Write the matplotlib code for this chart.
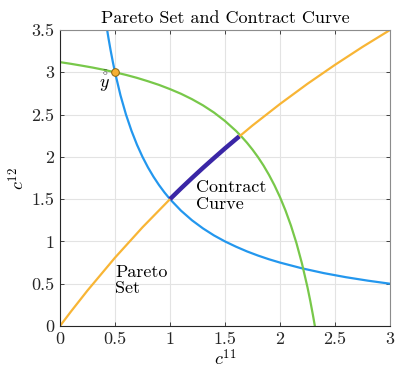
import matplotlib
matplotlib.use("Agg")
import matplotlib.pyplot as plt

plt.rcParams["font.family"] = "serif"
plt.rcParams["font.serif"] = ["cmr10", "DejaVu Serif"]
plt.rcParams["mathtext.fontset"] = "cm"
plt.rcParams["axes.formatter.use_mathtext"] = True

# Pareto set (agent 1 indifference curve through the endowment)
pareto_x = [0.42, 0.44, 0.46, 0.48, 0.5, 0.55, 0.6, 0.65, 0.7, 0.75, 0.8,
            0.85, 0.9, 0.95, 1.0, 1.1, 1.2, 1.3, 1.4, 1.5, 1.6, 1.7, 1.8,
            1.9, 2.0, 2.2, 2.4, 2.6, 2.8, 3.0]
pareto_y = [3.571, 3.409, 3.261, 3.125, 3.0, 2.727, 2.5, 2.308, 2.143, 2.0,
            1.875, 1.765, 1.667, 1.579, 1.5, 1.364, 1.25, 1.154, 1.071, 1.0,
            0.938, 0.882, 0.833, 0.789, 0.75, 0.682, 0.625, 0.577, 0.536, 0.5]

# agent 2 indifference curve through the endowment
indiff_x = [0.0, 0.1, 0.2, 0.3, 0.4, 0.5, 0.6, 0.7, 0.8, 0.9, 1.0, 1.1, 1.2,
            1.3, 1.4, 1.5, 1.6, 1.65, 1.7, 1.75, 1.8, 1.85, 1.9, 1.95, 2.0,
            2.05, 2.1, 2.15, 2.2, 2.25, 2.275, 2.3, 2.317]
indiff_y = [3.120, 3.100, 3.078, 3.055, 3.029, 3.000, 2.969, 2.934, 2.894,
            2.851, 2.801, 2.746, 2.682, 2.609, 2.524, 2.424, 2.307, 2.240,
            2.167, 2.086, 1.997, 1.898, 1.787, 1.663, 1.524, 1.366, 1.186,
            0.979, 0.738, 0.458, 0.299, 0.126, 0.0]

# efficient allocations (tangency locus)
eff_x = [0.0, 0.1, 0.25, 0.5, 0.75, 1.0, 1.25, 1.5, 1.75, 2.0, 2.25, 2.5,
         2.75, 3.0]
eff_y = [0.0, 0.172, 0.42, 0.808, 1.167, 1.5, 1.81, 2.1, 2.371, 2.625,
         2.864, 3.088, 3.3, 3.5]

# contract curve segment
contract_x = [1.0, 1.1, 1.2, 1.3, 1.4, 1.5, 1.63]
contract_y = [1.5, 1.627, 1.75, 1.87, 1.986, 2.1, 2.243]

endow_x = 0.5
endow_y = 3.0

fig = plt.figure(figsize=(3.96, 3.69), dpi=100)
ax = fig.add_axes([0.1515, 0.1165, 0.8333, 0.8022])

ax.plot(pareto_x, pareto_y, color="#2397ee", lw=1.6)
ax.plot(indiff_x, indiff_y, color="#78c84a", lw=1.6)
ax.plot(eff_x, eff_y, color="#f8b535", lw=1.6)
ax.plot(contract_x, contract_y, color="#3a26a6", lw=3.2, solid_capstyle="butt")
ax.plot([endow_x], [endow_y], "o", ms=5.5, mfc="#f7b034", mec="#8a6410", mew=0.7)

# endowment label: y with a ring and a bar stacked above it
lab_x, lab_y = 0.40, 2.85
ax.text(lab_x, lab_y, r"$y$", fontsize=13, ha="center", va="center")
ax.annotate(r"$\bar{\circ}$", (lab_x, lab_y), xytext=(1.2, 5.6),
            textcoords="offset points", fontsize=7, ha="center", va="bottom")

ax.text(1.235, 1.54, "Contract\nCurve", fontsize=13, ha="left", va="center",
        linespacing=1.1)
ax.text(0.5, 0.54, "Pareto\nSet", fontsize=13, ha="left", va="center",
        linespacing=1.1)

ax.set_xlim(0, 3)
ax.set_ylim(0, 3.5)
ax.set_xticks([0, 0.5, 1, 1.5, 2, 2.5, 3])
ax.set_xticklabels(["0", "0.5", "1", "1.5", "2", "2.5", "3"])
ax.set_yticks([0, 0.5, 1, 1.5, 2, 2.5, 3, 3.5])
ax.set_yticklabels(["0", "0.5", "1", "1.5", "2", "2.5", "3", "3.5"])
ax.tick_params(direction="in", length=3, width=0.6, labelsize=13,
               top=True, right=True, colors="#262626", pad=4)
ax.grid(True, color="#e3e3e3", lw=0.8)
ax.set_axisbelow(True)
for side in ["left", "bottom"]:
    ax.spines[side].set_color("#262626")
    ax.spines[side].set_linewidth(0.8)
for side in ["top", "right"]:
    ax.spines[side].set_color("#8c8c8c")
    ax.spines[side].set_linewidth(0.8)

ax.set_xlabel(r"$c^{11}$", fontsize=13, labelpad=1)
ax.set_ylabel(r"$c^{12}$", fontsize=13, labelpad=3)
ax.set_title("Pareto Set and Contract Curve", fontsize=13, pad=5)

fig.savefig("out.png", dpi=100)
